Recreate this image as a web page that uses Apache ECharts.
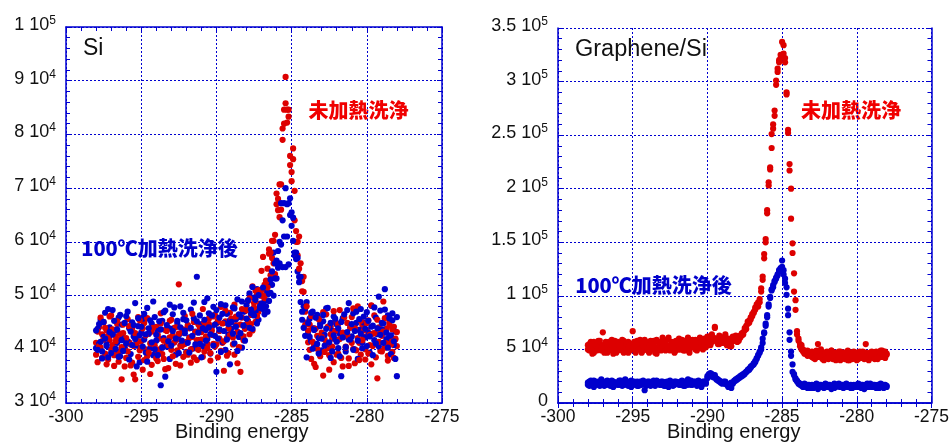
<!DOCTYPE html>
<html><head><meta charset="utf-8">
<script src="https://cdn.jsdelivr.net/npm/echarts@6/dist/echarts.min.js"></script>
<style>html,body{margin:0;padding:0;background:#fff}#c{width:952px;height:444px}</style>
</head><body><div id="c"></div>
<script>
// Binding energy grid (eV)
const energy = [
-298,-297.9,-297.8,-297.7,-297.6,-297.5,-297.4,-297.3,-297.2,-297.1,
-297,-296.9,-296.8,-296.7,-296.6,-296.5,-296.4,-296.3,-296.2,-296.1,
-296,-295.9,-295.8,-295.7,-295.6,-295.5,-295.4,-295.3,-295.2,-295.1,
-295,-294.9,-294.8,-294.7,-294.6,-294.5,-294.4,-294.3,-294.2,-294.1,
-294,-293.9,-293.8,-293.7,-293.6,-293.5,-293.4,-293.3,-293.2,-293.1,
-293,-292.9,-292.8,-292.7,-292.6,-292.5,-292.4,-292.3,-292.2,-292.1,
-292,-291.9,-291.8,-291.7,-291.6,-291.5,-291.4,-291.3,-291.2,-291.1,
-291,-290.9,-290.8,-290.7,-290.6,-290.5,-290.4,-290.3,-290.2,-290.1,
-290,-289.9,-289.8,-289.7,-289.6,-289.5,-289.4,-289.3,-289.2,-289.1,
-289,-288.9,-288.8,-288.7,-288.6,-288.5,-288.4,-288.3,-288.2,-288.1,
-288,-287.9,-287.8,-287.7,-287.6,-287.5,-287.4,-287.3,-287.2,-287.1,
-287,-286.9,-286.8,-286.7,-286.6,-286.5,-286.4,-286.3,-286.2,-286.1,
-286,-285.9,-285.8,-285.7,-285.6,-285.5,-285.4,-285.3,-285.2,-285.1,
-285,-284.9,-284.8,-284.7,-284.6,-284.5,-284.4,-284.3,-284.2,-284.1,
-284,-283.9,-283.8,-283.7,-283.6,-283.5,-283.4,-283.3,-283.2,-283.1,
-283,-282.9,-282.8,-282.7,-282.6,-282.5,-282.4,-282.3,-282.2,-282.1,
-282,-281.9,-281.8,-281.7,-281.6,-281.5,-281.4,-281.3,-281.2,-281.1,
-281,-280.9,-280.8,-280.7,-280.6,-280.5,-280.4,-280.3,-280.2,-280.1,
-280,-279.9,-279.8,-279.7,-279.6,-279.5,-279.4,-279.3,-279.2,-279.1,
-279,-278.9,-278.8,-278.7,-278.6,-278.5,-278.4,-278.3,-278.2,-278.1,
-278];

// ---- Si panel, intensity in 10^3 counts ----
const siUnheatedA = [
41.2,37.6,44.1,40.3,42.8,45.0,39.2,43.5,38.1,41.7,
46.3,40.8,36.9,42.4,44.7,39.5,41.9,34.4,43.0,40.1,
38.4,45.6,41.3,37.0,43.8,40.6,34.4,42.2,46.0,39.8,
41.5,36.2,44.9,40.0,38.7,42.9,35.4,43.3,41.0,39.1,
44.2,37.8,42.0,46.7,40.4,38.2,43.6,41.1,36.5,45.3,
39.9,42.6,44.0,37.3,41.8,52.1,40.7,43.1,38.6,46.2,
41.4,39.0,43.9,37.5,42.3,45.1,40.2,38.0,44.6,41.6,
43.2,47.5,39.6,44.3,41.0,45.7,37.9,42.7,46.1,40.5,
44.8,38.5,43.4,47.9,41.2,36.0,45.2,42.1,39.3,46.8,
43.0,40.9,48.3,44.5,37.4,42.6,35.8,45.9,41.7,47.1,
44.2,49.0,42.8,46.4,43.5,48.6,45.1,50.2,47.0,48.5,
54.6,57.2,52.0,52.8,55.0,58.6,53.8,57.0,56.0,61.3,
67.0,65.9,64.6,70.7,79.0,84.6,90.7,84.6,84.6,74.3,
71.3,77.4,69.5,60.0,60.0,61.0,52.7,50.8,53.5,47.0,
45.0,41.3,44.6,38.2,43.9,40.7,36.7,42.5,45.8,39.4,
43.1,35.1,41.8,46.5,40.2,38.9,44.3,42.0,37.6,45.1,
41.5,39.2,47.3,43.0,36.8,42.4,40.5,44.9,38.3,41.9,
46.0,40.1,37.4,43.7,48.0,41.2,39.0,44.5,42.3,38.1,
43.6,45.4,40.8,37.2,42.9,46.3,41.0,34.6,44.1,39.7,
42.5,48.9,40.3,43.8,38.8,45.0,41.6,39.5,44.2,42.0,
40.6];
const siUnheatedB = [
39.0,43.3,40.6,45.9,38.4,41.8,44.0,37.2,42.5,46.1,
40.0,43.7,38.9,41.5,45.2,37.7,42.9,40.4,44.6,36.8,
42.1,39.6,44.3,40.9,37.5,35.3,43.0,41.2,38.6,45.4,
40.3,43.9,38.0,42.6,45.8,39.4,41.1,37.1,44.0,40.7,
38.3,42.7,40.0,44.8,39.1,41.6,36.3,43.4,40.8,42.2,
45.5,38.7,41.3,44.1,39.8,42.9,37.0,40.6,43.7,41.0,
39.4,44.5,42.1,40.0,46.6,38.5,43.2,41.7,39.9,44.0,
41.8,38.6,45.0,42.4,40.2,44.7,39.3,43.5,41.0,46.4,
40.9,45.3,42.0,39.7,44.8,41.5,47.2,38.8,43.9,42.6,
45.7,42.2,39.0,46.1,43.3,40.4,44.6,47.5,42.4,43.8,
47.3,45.0,49.5,44.7,51.7,47.8,50.9,46.2,51.0,50.0,
51.0,50.0,49.5,52.5,51.5,57.8,58.0,60.2,60.2,54.0,
69.0,68.0,70.7,66.0,81.1,82.0,85.8,82.2,83.3,76.0,
73.0,75.4,64.0,62.0,57.5,55.0,56.0,52.7,50.7,44.5,
48.0,43.5,39.9,46.2,41.4,37.3,43.8,40.1,45.6,38.7,
42.3,46.9,39.5,41.0,44.2,36.2,42.8,40.5,47.1,43.4,
39.0,44.7,41.9,38.4,43.1,45.9,40.3,42.6,36.9,44.0,
41.2,47.6,43.9,39.8,42.1,38.0,45.3,41.7,43.5,40.0,
44.9,39.2,42.7,48.2,40.6,43.0,38.5,45.5,41.4,42.9,
39.6,43.3,45.8,41.1,37.9,44.4,40.9,43.7,38.4,41.8,
43.2];
const siHeatedA = [
40.2,43.8,41.0,45.5,39.6,42.3,46.8,40.9,38.5,44.1,
42.7,47.3,39.8,43.5,41.2,45.9,38.7,44.6,42.0,40.4,
46.2,41.5,43.9,39.1,45.0,42.4,48.6,40.7,44.3,37.6,
43.1,45.7,41.8,39.4,47.7,42.9,40.2,44.8,38.9,46.0,
41.6,43.4,39.7,33.3,45.3,42.1,47.2,40.5,44.0,38.2,
43.8,46.5,41.3,39.0,44.9,42.6,48.0,40.8,45.6,43.0,
39.5,44.4,42.2,47.4,40.1,45.8,43.3,53.5,41.7,46.3,
44.7,40.6,48.8,43.6,41.9,46.7,39.2,44.2,47.9,42.5,
35.8,45.1,43.7,48.4,41.4,44.9,39.9,46.6,42.8,45.4,
43.9,47.8,41.1,45.6,49.3,42.3,46.0,40.3,47.0,44.5,
48.2,45.3,50.4,46.7,43.8,49.6,47.1,51.2,45.5,48.0,
50.0,47.5,49.0,51.0,50.2,52.0,50.5,52.0,58.0,56.0,
53.2,55.2,60.0,59.5,64.0,61.0,70.0,61.0,55.8,68.1,
63.0,60.2,57.5,56.8,54.5,53.5,48.8,47.0,48.0,47.6,
48.8,43.2,45.7,41.5,47.0,43.9,40.6,46.4,42.1,44.8,
39.8,45.2,42.7,47.6,41.0,44.3,38.4,43.5,46.1,41.9,
44.6,40.2,42.9,35.0,45.8,43.0,39.6,47.3,41.8,44.1,
42.4,46.7,40.0,44.9,38.2,43.6,47.5,41.3,45.0,42.2,
46.9,43.1,39.4,48.1,44.4,41.7,45.9,42.8,40.5,47.2,
43.7,44.8,51.2,41.9,46.3,42.5,39.1,45.4,40.8,43.3,
35.0];
const siHeatedB = [
43.5,39.9,44.7,41.4,38.3,45.1,42.0,40.6,47.5,43.2,
39.3,42.8,45.3,40.1,43.7,38.6,46.4,41.7,39.7,44.9,
41.1,47.0,38.1,43.3,40.8,44.5,41.9,36.8,45.8,42.6,
44.2,40.5,46.6,42.8,37.7,43.9,45.4,41.3,48.9,40.0,
42.7,38.9,45.2,43.7,40.3,46.9,34.9,44.5,41.5,48.3,
40.7,43.4,47.8,42.0,45.3,39.3,44.1,41.6,46.8,43.5,
45.4,41.2,39.4,44.0,42.5,48.7,40.9,45.2,43.1,41.0,
38.5,43.9,45.5,41.6,49.5,44.1,42.8,46.3,40.7,44.6,
47.3,42.0,45.9,39.5,46.6,43.4,48.2,41.8,44.7,37.2,
45.1,42.9,47.6,44.2,39.7,46.5,43.0,48.9,44.4,41.6,
45.7,49.1,44.0,47.4,51.6,46.3,49.2,44.8,50.1,47.7,
48.5,51.5,46.5,48.0,47.0,49.0,53.0,54.5,50.0,53.2,
56.5,58.3,56.0,67.2,55.3,67.2,55.3,67.0,67.2,65.0,
65.5,64.5,58.0,58.0,57.0,52.5,53.5,45.5,44.0,42.5,
38.5,44.9,42.3,46.8,40.1,43.6,45.9,41.0,39.2,44.3,
42.0,46.4,40.7,43.8,47.7,41.3,44.9,39.6,42.6,45.7,
41.4,43.9,38.7,45.1,42.2,46.5,40.4,43.2,48.6,41.8,
44.7,39.9,43.4,47.0,41.6,45.6,42.9,40.2,46.1,43.8,
40.6,45.3,42.4,44.2,38.9,47.8,41.1,43.9,49.8,42.7,
44.9,41.2,47.4,43.1,40.3,45.8,42.6,46.7,41.5,38.2,
46.0];

// ---- Graphene/Si panel, intensity in 10^3 counts ----
const grUnheatedA = [
54,49,57,52,47,56,50,58,54,49,
66,52,55,47,57,50,54,46,58,52,
49,55,52,59,47,54,50,57,49,55,
67,52,47,58,54,50,57,49,59,52,
55,47,54,50,58,52,46,57,54,49,
61,55,50,59,52,49,57,54,47,58,
52,60,50,55,49,58,54,61,50,57,
55,52,59,49,58,54,57,50,60,55,
58,62,54,64,58,70,60,55,63,57,
61,58,64,54,60,53,57,62,58,63,
57,60,61,63,66,68,72,74,77,80,
83,85,87,92,90,94,107,118,139,153,
177,206,220,238,256,268,297,312,320,325,
337,334,322,290,255,223,200,149,121,96,
67,58,55,54,50,47,46,49,45,44,
48,42,46,49,43,45,50,41,47,44,
48,41,45,49,43,47,42,45,48,40,
44,47,41,45,49,40,44,47,42,46,
40,44,48,42,46,41,47,44,42,46,
48,42,44,47,41,45,49,43,47,42,
45];
const grUnheatedB = [
50,55,52,46,57,54,49,52,58,50,
54,47,57,52,49,55,59,50,54,47,
57,50,54,49,58,52,55,47,54,50,
52,57,49,55,50,59,47,54,52,57,
49,54,58,52,55,47,59,50,54,57,
52,58,49,54,61,50,55,52,57,49,
57,50,55,59,52,49,58,54,47,55,
59,54,50,57,52,61,55,58,54,52,
62,56,59,57,61,71,58,60,55,59,
56,61,57,60,54,59,53,58,61,59,
59,58,63,65,64,70,69,76,75,78,
81,84,89,90,94,97,104,115,135,150,
180,203,218,251,260,273,301,309,318,322,
325,326,318,288,252,217,172,140,104,87,
64,60,53,50,48,46,48,44,47,45,
43,47,41,45,55,48,43,47,40,46,
42,47,44,49,41,45,40,47,43,48,
46,42,47,43,40,47,45,41,48,43,
47,41,45,43,48,42,55,45,40,47,
43,47,41,48,45,43,47,49,44,48,
46];
const grHeatedA = [
19,16,21,18,15,20,18,17,19,22,
18,16,20,19,17,18,21,15,19,18,
17,21,18,16,19,22,17,18,20,15,
19,18,17,20,16,19,18,21,12,19,
18,20,16,19,17,18,21,18,19,17,
20,16,19,18,15,21,18,19,17,20,
18,19,17,21,18,16,19,22,18,17,
19,18,20,16,19,18,15,20,19,18,
23,26,25,27,26,24,23,22,21,20,
19,20,18,17,15,16,14,19,20,22,
22,24,25,26,27,28,29,30,32,33,
35,36,38,41,44,48,50,56,65,72,
80,90,98,106,110,114,116,120,124,125,
133,124,116,108,88,66,48,36,27,23,
21,19,18,17,16,18,15,17,16,14,
17,15,16,18,13,16,17,15,16,18,
15,17,16,13,16,18,15,17,16,15,
17,14,16,18,15,16,17,14,16,15,
16,18,15,17,16,13,17,15,16,18,
15,16,17,14,16,15,18,16,14,17,
16];
const grHeatedB = [
17,20,18,19,21,17,19,20,16,18,
20,18,17,21,19,16,18,20,17,19,
19,17,21,18,17,19,20,16,18,21,
17,20,19,16,18,20,17,19,18,16,
20,17,19,18,21,16,18,19,17,20,
17,19,16,20,18,19,17,16,20,18,
19,17,20,18,16,20,18,17,19,21,
17,20,18,19,21,17,19,18,20,19,
25,27,28,25,24,26,22,21,20,19,
18,19,20,18,16,17,19,18,21,21,
23,23,24,25,26,27,29,31,31,34,
35,37,39,42,45,47,52,60,66,74,
82,92,99,105,108,113,117,119,123,126,
127,120,112,101,82,59,44,29,26,22,
20,18,17,16,15,17,16,14,17,15,
16,14,17,15,16,17,15,16,14,17,
16,15,17,16,15,14,17,16,18,15,
15,17,15,16,17,15,14,16,17,16,
17,15,16,14,17,16,15,18,15,16,
16,17,15,16,17,14,16,15,17,16,
15];

// tick labels (mantissa^exponent), values in 10^3 counts
const siYTicks = [30,40,50,60,70,80,90,100];
const siYLabels = ['3 10^4','4 10^4','5 10^4','6 10^4','7 10^4','8 10^4','9 10^4','1 10^5'];
const grYTicks = [0,50,100,150,200,250,300,350];
const grYLabels = ['0','5 10^4','1 10^5','1.5 10^5','2 10^5','2.5 10^5','3 10^5','3.5 10^5'];
const xTicks = [-300,-295,-290,-285,-280,-275];

const AX = '#0000d0', RED = '#dd0000', BLUE = '#0000cc';
const FONT = 'Liberation Sans, Arial, sans-serif';
const JP = '"Noto Sans CJK JP", sans-serif';

function yFmt(ticks, labels) {
  return function (v) {
    const i = ticks.indexOf(Math.round(v));
    if (i < 0) return '';
    const s = labels[i];
    if (s.indexOf('^') < 0) return '{m|' + s + '}';
    const p = s.split('^');
    return '{m|' + p[0] + '}{s|' + p[1] + '}';
  };
}
const rich = {
  m: {fontSize: 18, lineHeight: 21, fontFamily: FONT, color: '#111'},
  s: {fontSize: 12, lineHeight: 12, verticalAlign: 'top', fontFamily: FONT, color: '#111'}
};

function xAxes(g) {
  return [{
    gridIndex: g, type: 'value', min: xTicks[0], max: xTicks[xTicks.length-1], interval: 5,
    axisLine: {lineStyle: {color: AX, width: 1.5}},
    axisTick: {inside: true, length: 5, lineStyle: {color: AX}},
    minorTick: {show: true, splitNumber: 5, length: 4, lineStyle: {color: AX}},
    splitLine: {show: true, lineStyle: {color: AX, type: [2, 2], width: 1}},
    axisLabel: {color: '#111', fontSize: 17.5, fontFamily: FONT, margin: 5}
  }, {
    gridIndex: g, type: 'value', position: 'top', min: xTicks[0], max: xTicks[xTicks.length-1], interval: 5,
    axisLine: {lineStyle: {color: AX, width: 1.5}},
    axisTick: {inside: true, length: 5, lineStyle: {color: AX}},
    minorTick: {show: true, splitNumber: 5, length: 4, lineStyle: {color: AX}},
    splitLine: {show: false}, axisLabel: {show: false}
  }];
}
function yAxes(g, ticks, labels) {
  const mn = ticks[0], mx = ticks[ticks.length-1], iv = ticks[1]-ticks[0];
  return [{
    gridIndex: g, type: 'value', min: mn, max: mx, interval: iv,
    axisLine: {show: true, lineStyle: {color: AX, width: 1.5}},
    axisTick: {show: true, inside: true, length: 5, lineStyle: {color: AX}},
    minorTick: {show: true, splitNumber: 5, length: 4, lineStyle: {color: AX}},
    splitLine: {show: true, lineStyle: {color: AX, type: [2, 2], width: 1}},
    axisLabel: {margin: 10, formatter: yFmt(ticks, labels), rich: rich, padding: [0, 0, 4, 0]}
  }, {
    gridIndex: g, type: 'value', position: 'right', min: mn, max: mx, interval: iv,
    axisLine: {show: true, lineStyle: {color: AX, width: 1.5}},
    axisTick: {show: true, inside: true, length: 5, lineStyle: {color: AX}},
    minorTick: {show: true, splitNumber: 5, length: 4, lineStyle: {color: AX}},
    splitLine: {show: false}, axisLabel: {show: false}
  }];
}
function pts(arr) { return energy.map((e, i) => [e, arr[i]]); }
function sc(xi, yi, arr, color) {
  return {type: 'scatter', xAxisIndex: xi, yAxisIndex: yi, data: pts(arr),
    symbol: 'circle', symbolSize: 6.2, itemStyle: {color: color, opacity: 1}, silent: true};
}

const chart = echarts.init(document.getElementById('c'), null, {renderer: 'canvas'});
chart.setOption({
  animation: false,
  backgroundColor: '#fff',
  grid: [
    {left: 66, top: 27, width: 376, height: 376},
    {left: 558, top: 28, width: 376, height: 375}
  ],
  xAxis: [...xAxes(0), ...xAxes(1)],
  yAxis: [...yAxes(0, siYTicks, siYLabels), ...yAxes(1, grYTicks, grYLabels)],
  series: [
    sc(0, 0, siUnheatedA, RED), sc(0, 0, siHeatedA, BLUE),
    sc(0, 0, siUnheatedB, RED), sc(0, 0, siHeatedB, BLUE),
    sc(2, 2, grUnheatedA, RED), sc(2, 2, grUnheatedB, RED),
    sc(2, 2, grHeatedA, BLUE), sc(2, 2, grHeatedB, BLUE)
  ],
  graphic: [
    {type: 'text', left: 83, top: 37, style: {text: 'Si', font: '23px ' + FONT, fill: '#111'}},
    {type: 'text', left: 575, top: 38, style: {text: 'Graphene/Si', font: '23.5px ' + FONT, fill: '#111'}},
    {type: 'text', x: 358.5, y: 110, style: {text: '未加熱洗浄', font: '900 20px ' + JP, fill: '#f00000', align: 'center', verticalAlign: 'middle'}},
    {type: 'text', x: 851, y: 110, style: {text: '未加熱洗浄', font: '900 20px ' + JP, fill: '#f00000', align: 'center', verticalAlign: 'middle'}},
    {type: 'text', x: 159.5, y: 248.5, style: {text: '100℃加熱洗浄後', font: '900 20px ' + JP, fill: BLUE, align: 'center', verticalAlign: 'middle'}},
    {type: 'text', x: 653.5, y: 285, style: {text: '100℃加熱洗浄後', font: '900 20px ' + JP, fill: BLUE, align: 'center', verticalAlign: 'middle'}},
    {type: 'text', x: 241.7, y: 422, style: {text: 'Binding energy', font: '20px ' + FONT, fill: '#111', align: 'center', verticalAlign: 'top'}},
    {type: 'text', x: 733.7, y: 422, style: {text: 'Binding energy', font: '20px ' + FONT, fill: '#111', align: 'center', verticalAlign: 'top'}}
  ]
});
</script></body></html>
